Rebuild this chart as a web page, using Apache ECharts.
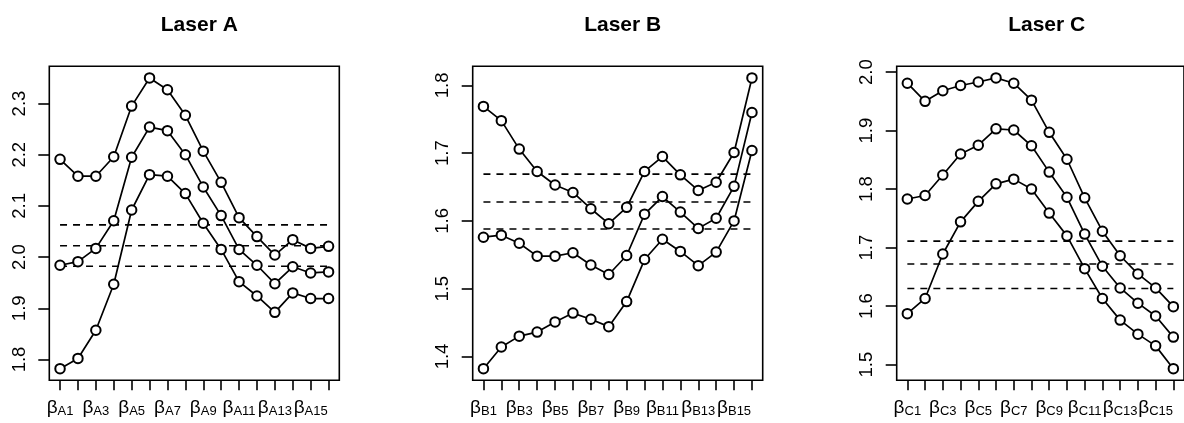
<!DOCTYPE html>
<html>
<head>
<meta charset="utf-8">
<script src="https://cdn.jsdelivr.net/npm/echarts@6/dist/echarts.min.js"></script>
<style>
  html, body { margin: 0; padding: 0; background: #fff; }
  #chart { width: 1184px; height: 423px; }
</style>
</head>
<body>
<div id="chart"></div>
<script>
// ---- data ----
const positions = [1, 2, 3, 4, 5, 6, 7, 8, 9, 10, 11, 12, 13, 14, 15, 16];
const labelPositions = [1, 3, 5, 7, 9, 11, 13, 15];
const panelTitles = ['Laser A', 'Laser B', 'Laser C'];
const panelLetters = ['A', 'B', 'C'];

const laserA_upper = [2.191, 2.158, 2.158, 2.196, 2.295, 2.350, 2.327, 2.277, 2.207, 2.146, 2.077, 2.040, 2.004, 2.034, 2.017, 2.021];
const laserA_mid   = [1.984, 1.991, 2.017, 2.071, 2.195, 2.254, 2.247, 2.200, 2.137, 2.081, 2.015, 1.984, 1.948, 1.981, 1.969, 1.971];
const laserA_lower = [1.782, 1.802, 1.857, 1.947, 2.092, 2.161, 2.158, 2.124, 2.066, 2.015, 1.952, 1.924, 1.892, 1.930, 1.919, 1.919];
const laserA_dash  = [2.063, 2.022, 1.982];
const laserA_ticks = [1.8, 1.9, 2.0, 2.1, 2.2, 2.3];

const laserB_upper = [1.769, 1.748, 1.706, 1.673, 1.653, 1.642, 1.618, 1.596, 1.620, 1.673, 1.695, 1.668, 1.645, 1.657, 1.701, 1.811];
const laserB_mid   = [1.576, 1.579, 1.567, 1.548, 1.548, 1.553, 1.535, 1.521, 1.549, 1.610, 1.636, 1.613, 1.589, 1.604, 1.651, 1.760];
const laserB_lower = [1.382, 1.414, 1.430, 1.436, 1.451, 1.464, 1.455, 1.444, 1.481, 1.543, 1.573, 1.555, 1.534, 1.554, 1.600, 1.704];
const laserB_dash  = [1.669, 1.628, 1.588];
const laserB_ticks = [1.4, 1.5, 1.6, 1.7, 1.8];

const laserC_upper = [1.981, 1.950, 1.968, 1.977, 1.983, 1.990, 1.981, 1.952, 1.897, 1.851, 1.785, 1.728, 1.686, 1.655, 1.631, 1.599];
const laserC_mid   = [1.783, 1.789, 1.824, 1.860, 1.875, 1.903, 1.901, 1.874, 1.829, 1.786, 1.723, 1.668, 1.631, 1.605, 1.583, 1.547];
const laserC_lower = [1.587, 1.613, 1.689, 1.744, 1.779, 1.809, 1.817, 1.800, 1.759, 1.720, 1.664, 1.613, 1.576, 1.552, 1.532, 1.493];
const laserC_dash  = [1.711, 1.672, 1.630];
const laserC_ticks = [1.5, 1.6, 1.7, 1.8, 1.9, 2.0];

// ---- layout ----
const FONT = '"Liberation Sans", Arial, Helvetica, sans-serif';
const gridLefts = [49.3, 472.7, 896.7];
const gridWidth = 290;
const gridTop = 66.3;
const gridHeight = 314;

const panels = [
  { series: [laserA_upper, laserA_mid, laserA_lower], dash: laserA_dash, ticks: laserA_ticks },
  { series: [laserB_upper, laserB_mid, laserB_lower], dash: laserB_dash, ticks: laserB_ticks },
  { series: [laserC_upper, laserC_mid, laserC_lower], dash: laserC_dash, ticks: laserC_ticks }
];

function rExtend(vals) {
  const lo = Math.min(...vals), hi = Math.max(...vals);
  const r = hi - lo;
  return [lo - 0.04 * r, hi + 0.04 * r];
}

const option = {
  animation: false,
  backgroundColor: '#fff',
  title: [], grid: [], xAxis: [], yAxis: [], series: []
};

panels.forEach((p, i) => {
  const all = [].concat(...p.series, p.dash);
  const [ymin, ymax] = rExtend(all);
  const [xmin, xmax] = rExtend(positions);
  const letter = panelLetters[i];

  option.title.push({
    text: panelTitles[i],
    left: gridLefts[i] + gridWidth / 2,
    top: 10,
    textAlign: 'center',
    textStyle: { fontFamily: FONT, fontSize: 21, fontWeight: 'bold', color: '#000' }
  });
  option.grid.push({
    left: gridLefts[i], top: gridTop, width: gridWidth, height: gridHeight,
    show: true, borderColor: '#000', borderWidth: 1.6, backgroundColor: 'transparent'
  });
  option.xAxis.push({
    type: 'value', gridIndex: i, min: xmin, max: xmax,
    axisLine: { show: false },
    splitLine: { show: false },
    axisTick: { show: true, length: 10, customValues: positions, lineStyle: { color: '#000', width: 1.6 } },
    axisLabel: {
      show: true, margin: 18, customValues: labelPositions, color: '#000',
      hideOverlap: false, showMinLabel: true, showMaxLabel: true,
      fontFamily: FONT,
      formatter: v => '{b|β}{s|' + letter + v + '}',
      rich: {
        b: { fontFamily: FONT, fontSize: 19, lineHeight: 20, verticalAlign: 'top', color: '#000' },
        s: { fontFamily: FONT, fontSize: 13, lineHeight: 13, verticalAlign: 'bottom', color: '#000' }
      }
    }
  });
  option.yAxis.push({
    type: 'value', gridIndex: i, min: ymin, max: ymax,
    axisLine: { show: false },
    splitLine: { show: false },
    axisTick: { show: true, length: 11, customValues: p.ticks, lineStyle: { color: '#000', width: 1.6 } },
    axisLabel: {
      show: true, rotate: 90, margin: 20, customValues: p.ticks, color: '#000',
      hideOverlap: false, showMinLabel: true, showMaxLabel: true,
      fontFamily: FONT, fontSize: 18.5,
      formatter: v => v.toFixed(1)
    }
  });
  p.series.forEach(vals => {
    option.series.push({
      type: 'line', xAxisIndex: i, yAxisIndex: i,
      data: positions.map((x, k) => [x, vals[k]]),
      symbol: 'emptyCircle', symbolSize: 9.5, showSymbol: true,
      lineStyle: { color: '#000', width: 1.7 },
      itemStyle: { color: '#000', borderColor: '#000', borderWidth: 1.6 },
      emphasis: { disabled: true }, silent: true, z: 3
    });
  });
  p.dash.forEach(v => {
    option.series.push({
      type: 'line', xAxisIndex: i, yAxisIndex: i,
      data: [[positions[0], v], [positions[positions.length - 1], v]],
      showSymbol: false, symbol: 'none',
      lineStyle: { color: '#000', width: 1.6, type: [7, 6] },
      emphasis: { disabled: true }, silent: true, z: 2
    });
  });
});

const chart = echarts.init(document.getElementById('chart'), null, { renderer: 'canvas' });
chart.setOption(option);
</script>
</body>
</html>
